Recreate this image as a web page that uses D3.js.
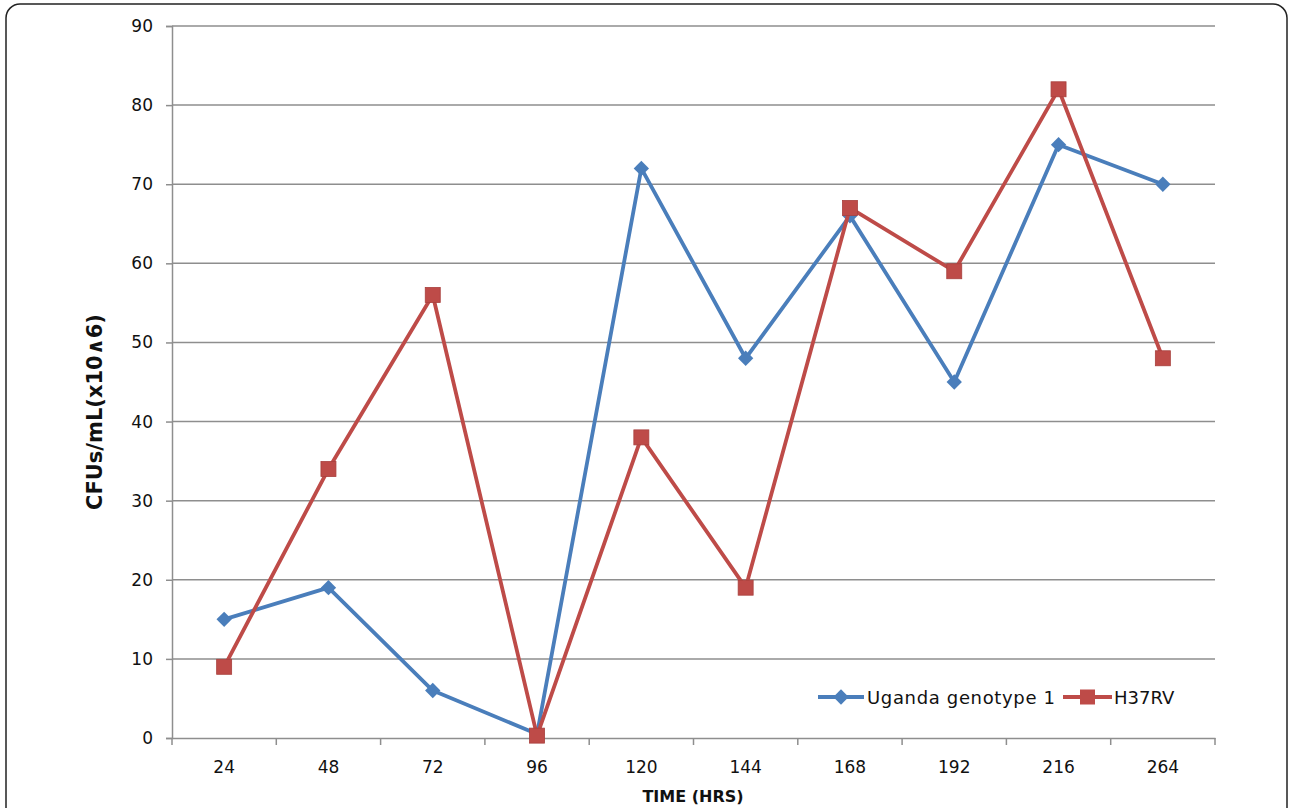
<!DOCTYPE html>
<html><head><meta charset="utf-8">
<script src="https://cdn.jsdelivr.net/npm/d3@7"></script>
<style>html,body{margin:0;padding:0;background:#fff;} svg{display:block;}</style>
</head><body>
<svg id="c" width="1290" height="808"></svg>
<script>
const categories = ["24","48","72","96","120","144","168","192","216","264"];
const uganda = [15,19,6,0.5,72,48,66,45,75,70];
const h37rv = [9,34,56,0.3,38,19,67,59,82,48];
const yTicks = [0,10,20,30,40,50,60,70,80,90];
const seriesNames = ["Uganda genotype 1","H37RV"];
const colors = ["#4a7ebb","#be4b48"];

const svg = d3.select("#c");
const font = "'DejaVu Sans', Verdana, sans-serif";
const m = {left:172, right:1215, top:26, bottom:738};

svg.append("rect").attr("x",6).attr("y",4).attr("width",1281).attr("height",830)
  .attr("rx",14).attr("fill","#fff").attr("stroke","#222").attr("stroke-width",1.5);

const x = d3.scaleBand().domain(categories).range([m.left,m.right]);
const y = d3.scaleLinear().domain([0,90]).range([m.bottom,m.top]);

// gridlines
svg.append("g").selectAll("line").data(yTicks.filter(d=>d>0)).join("line")
  .attr("x1",m.left).attr("x2",m.right).attr("y1",d=>y(d)).attr("y2",d=>y(d))
  .attr("stroke","#8e8e8e").attr("stroke-width",1.5);

// y axis
const ya = svg.append("g").attr("transform",`translate(${m.left},0)`)
  .call(d3.axisLeft(y).tickValues(yTicks).tickSize(6).tickPadding(13));
ya.select(".domain").attr("stroke","#8e8e8e").attr("stroke-width",1.5);
ya.selectAll(".tick line").attr("stroke","#8e8e8e").attr("stroke-width",1.5);
ya.selectAll("text").attr("font-family",font).attr("font-size",17).attr("fill","#111");

// x axis
const xa = svg.append("g").attr("transform",`translate(0,${m.bottom})`)
  .call(d3.axisBottom(x).tickSize(0).tickPadding(0));
xa.select(".domain").attr("stroke","#8e8e8e").attr("stroke-width",1.5);
xa.selectAll(".tick text").attr("font-family",font).attr("font-size",17).attr("fill","#111").attr("dy","2.05em");
const bounds = categories.map(c=>x(c)).concat([m.right]);
svg.append("g").selectAll("line").data(bounds).join("line")
  .attr("x1",d=>d).attr("x2",d=>d).attr("y1",m.bottom).attr("y2",m.bottom+7)
  .attr("stroke","#8e8e8e").attr("stroke-width",1.5);

// titles
svg.append("text").attr("transform","translate(102,412) rotate(-90)").attr("text-anchor","middle")
  .attr("font-family",font).attr("font-size",21).attr("font-weight","bold").attr("fill","#111")
  .text("CFUs/mL(x10\u22276)");
svg.append("text").attr("x",693).attr("y",802).attr("text-anchor","middle")
  .attr("font-family",font).attr("font-size",16).attr("font-weight","bold").attr("fill","#111")
  .text("TIME (HRS)");

const cx = c => x(c)+x.bandwidth()/2;
const line = d3.line().x((d,i)=>cx(categories[i])).y(d=>y(d));
const diamond = d3.symbol().type(d3.symbolDiamond2).size(150);
[uganda,h37rv].forEach((s,k)=>{
  svg.append("path").attr("d",line(s)).attr("fill","none").attr("stroke",colors[k]).attr("stroke-width",3.8).attr("stroke-linejoin","round");
  const g = svg.append("g");
  if(k===0){
    g.selectAll("path").data(s).join("path").attr("d",diamond)
      .attr("transform",(d,i)=>`translate(${cx(categories[i])},${y(d)})`).attr("fill",colors[0]);
  } else {
    g.selectAll("rect").data(s).join("rect").attr("width",15).attr("height",15)
      .attr("x",(d,i)=>cx(categories[i])-7.5).attr("y",d=>y(d)-7.5).attr("fill",colors[1]).attr("stroke","#a8403d").attr("stroke-width",0.8);
  }
});

// legend
const ly = 697;
svg.append("line").attr("x1",818).attr("x2",864).attr("y1",ly).attr("y2",ly).attr("stroke",colors[0]).attr("stroke-width",3.8);
svg.append("path").attr("d",diamond).attr("transform",`translate(841,${ly})`).attr("fill",colors[0]);
svg.append("text").attr("x",867).attr("y",ly+6.5).attr("font-family",font).attr("font-size",18).attr("fill","#111")
  .attr("textLength",188).attr("lengthAdjust","spacing").text(seriesNames[0]);
svg.append("line").attr("x1",1063).attr("x2",1112).attr("y1",ly).attr("y2",ly).attr("stroke",colors[1]).attr("stroke-width",3.8);
svg.append("rect").attr("x",1080).attr("y",ly-7.5).attr("width",15).attr("height",15).attr("fill",colors[1]);
svg.append("text").attr("x",1114).attr("y",ly+6.5).attr("font-family",font).attr("font-size",18).attr("fill","#111").text(seriesNames[1]);
</script>
</body></html>
